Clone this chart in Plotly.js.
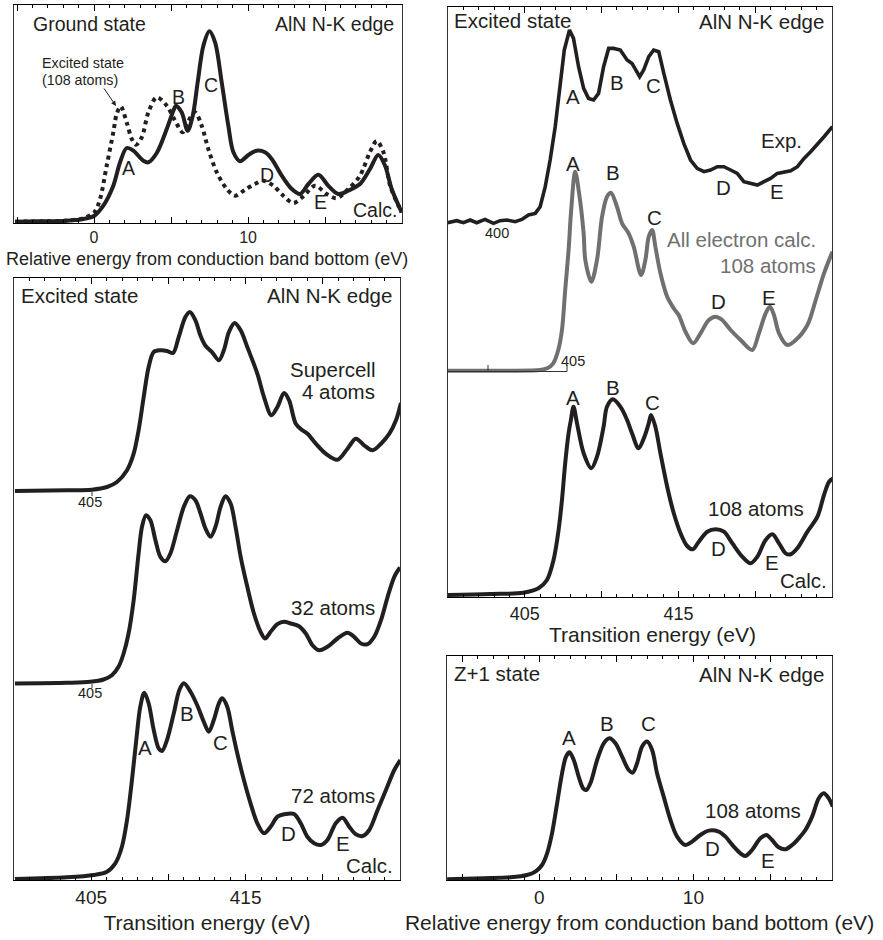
<!DOCTYPE html>
<html>
<head>
<meta charset="utf-8">
<script src="https://cdn.plot.ly/plotly-3.0.1.min.js"></script>
<style>html,body{margin:0;padding:0;background:#fff;}#chart{width:883px;height:940px;}</style>
</head>
<body>
<div id="chart"></div>
<script>
// ---------- Panel 1: ground state vs excited state (relative energy, eV) ----------
const gsE = [-5.13, -3.5, -1.77, -0.69, 0.02, 0.6, 1.25, 1.69, 2.12, 2.55, 3.2, 3.53, 4.07, 4.72, 5.15, 5.32, 5.69, 6.08, 6.41, 6.73, 7.1, 7.49, 7.86, 8.29, 8.72, 9.05, 9.48, 10.02, 10.56, 11.1, 11.54, 12.19, 12.84, 13.38, 13.92, 14.57, 15.21, 15.86, 16.51, 17.27, 17.92, 18.46, 18.9, 19.33, 19.98];
const gsI = [0.3, 0.7, 1.3, 3, 6.3, 16.3, 36.3, 59.7, 74, 71.3, 61.3, 59.7, 69, 93, 111.3, 116.3, 109.7, 91.3, 106.3, 139.7, 176.3, 190.7, 179.7, 139.7, 96.3, 69.7, 60.7, 67, 71.3, 69.7, 63, 46.3, 33, 28, 38, 47.3, 36.3, 28, 31.3, 38, 53, 67, 56.3, 33, 9.7];
const ex108E = [-5.13, -1.77, -0.69, 0.02, 0.39, 0.82, 1.25, 1.47, 1.73, 2.12, 2.45, 2.73, 3.1, 3.53, 4.07, 4.72, 5.26, 5.76, 6.13, 6.56, 6.99, 7.42, 7.97, 8.62, 9.16, 9.81, 10.45, 11.0, 11.64, 12.29, 12.94, 13.59, 14.35, 15.11, 15.76, 16.51, 17.27, 17.92, 18.36, 18.79, 19.23, 19.77, 19.98];
const ex108I = [0.3, 1.5, 3.7, 9.7, 23, 56.3, 89.7, 108, 115.7, 99.7, 83, 77.3, 84.7, 109.7, 124.7, 116.3, 101.3, 89.7, 101.3, 109.7, 96.3, 73, 49.7, 33, 26.3, 32.3, 38, 41.3, 36.3, 26.3, 19, 25.7, 36.3, 28, 23.7, 33, 46.3, 70, 81, 70, 36.3, 16.3, 9.7];

// ---------- Panel 2: supercell size dependence (transition energy, eV) ----------
const sc4E = [400.06, 403.42, 405.04, 406.02, 406.67, 407.32, 407.75, 408.07, 408.4, 408.72, 409.05, 409.48, 409.91, 410.3, 410.67, 411.1, 411.39, 411.75, 412.08, 412.4, 412.84, 413.27, 413.59, 413.92, 414.29, 414.68, 415.11, 415.76, 416.19, 416.67, 417.06, 417.49, 417.82, 418.25, 418.68, 419.01, 419.55, 420.19, 420.95, 421.6, 422.14, 422.68, 423.22, 423.77, 424.31, 424.74, 425.06];
const sc4I = [0, 0.7, 1.3, 4, 9, 20.7, 37.3, 60.7, 94, 124, 139, 140.7, 140, 138, 154, 174, 179, 170.7, 155.3, 145.3, 138.7, 130.7, 140.7, 159, 168, 160.7, 144, 117.3, 94, 75.7, 84, 98, 90.7, 67.3, 60.7, 57.3, 47.3, 37.3, 31.3, 42.3, 52.3, 45.7, 40.7, 47.3, 57.3, 70.7, 88];
const sc32E = [400.06, 403.42, 404.94, 405.8, 406.34, 406.77, 407.1, 407.42, 407.75, 408.07, 408.29, 408.55, 408.83, 409.16, 409.48, 409.81, 410.13, 410.56, 411.0, 411.39, 411.75, 412.08, 412.4, 412.73, 413.05, 413.38, 413.7, 414.03, 414.35, 414.68, 415.11, 415.54, 415.97, 416.26, 416.62, 417.06, 417.49, 417.92, 418.46, 418.9, 419.33, 419.76, 420.3, 420.95, 421.6, 422.03, 422.47, 422.9, 423.33, 423.77, 424.2, 424.63, 425.0];
const sc32I = [0, 0.7, 1.7, 4, 8.3, 16.7, 30, 50, 83.3, 130, 156.7, 168.3, 163.3, 143.3, 126.7, 122.3, 130, 153.3, 176.7, 187.3, 183.3, 170, 155, 146.7, 156.7, 176.7, 187.3, 180, 156.7, 126.7, 96.7, 70, 51.7, 45, 51.7, 59.3, 61.7, 60, 57.3, 50, 38.3, 33.3, 36.7, 45, 50.7, 46.7, 40, 39.3, 46.7, 63.3, 86.7, 106.7, 116];
const sc72E = [400.06, 403.42, 405.15, 406.02, 406.56, 406.99, 407.32, 407.64, 407.92, 408.18, 408.44, 408.72, 409.05, 409.37, 409.59, 409.91, 410.35, 410.71, 411.0, 411.43, 411.86, 412.29, 412.62, 412.94, 413.27, 413.48, 413.81, 414.13, 414.46, 414.89, 415.32, 415.76, 416.19, 416.62, 417.06, 417.49, 418.14, 418.57, 419.0, 419.44, 419.87, 420.3, 420.84, 421.28, 421.71, 422.14, 422.58, 423.01, 423.55, 424.09, 424.63, 425.02];
const sc72I = [0, 1.7, 4, 7.3, 15.7, 32.3, 59, 99, 139, 172.3, 186.3, 175.7, 149, 130.7, 128, 139, 165.7, 189, 195.7, 187.3, 174, 157.3, 147.3, 159, 175.7, 180.7, 172.3, 149, 125.7, 99, 75.7, 55.7, 45.7, 52.3, 62.3, 64.7, 65, 55.7, 42.3, 35.7, 34, 39, 55.7, 61.3, 52.3, 44.7, 43, 49, 69, 89, 109, 119];

// ---------- Panel 3: experiment vs all-electron vs 108-atom calc (transition energy, eV) ----------
const expE = [399.95, 400.57, 401.0, 401.44, 401.87, 402.41, 402.96, 403.39, 403.83, 404.37, 404.81, 405.24, 405.68, 406.0, 406.33, 406.65, 406.98, 407.31, 407.57, 407.91, 408.17, 408.5, 408.83, 409.15, 409.48, 409.8, 410.13, 410.46, 410.78, 411.22, 411.66, 411.98, 412.2, 412.48, 412.74, 413.07, 413.39, 413.72, 414.05, 414.48, 414.92, 415.35, 415.79, 416.22, 416.66, 417.09, 417.53, 417.96, 418.4, 418.83, 419.26, 419.7, 420.14, 420.57, 421.0, 421.44, 421.87, 422.31, 422.75, 423.18, 423.61, 424.05, 424.48, 425.03];
const expI = [0, 2, 0, 2.7, 0, 3.3, -0.7, 2, 2.7, 1, 3.3, 7.7, 9.3, 16, 36, 62.7, 96, 139.3, 172.7, 192.7, 184.3, 156, 134.3, 124.3, 122.7, 129.3, 156, 174.3, 174.3, 172.7, 162.7, 159.3, 152.7, 146, 152.7, 166, 172.7, 171, 149.3, 122.7, 99.3, 79.3, 62.7, 54.3, 51, 52.7, 56, 56, 52.7, 49.3, 41, 39.3, 37.7, 41, 44.3, 49.3, 51, 52, 56, 64.3, 71, 79.3, 86, 96];
const aeE = [399.93, 403.85, 406.0, 406.46, 406.85, 407.18, 407.42, 407.63, 407.85, 408.02, 408.28, 408.55, 408.83, 408.94, 409.33, 409.7, 410.03, 410.35, 410.61, 411.0, 411.33, 411.76, 412.09, 412.57, 412.85, 413.07, 413.29, 413.5, 413.83, 414.27, 414.7, 415.02, 415.46, 415.96, 416.44, 416.98, 417.42, 417.85, 418.4, 419.05, 419.81, 420.24, 420.68, 420.96, 421.22, 421.55, 422.09, 422.64, 423.4, 423.94, 424.48, 425.03];
const aeI = [0, 0, 0.7, 2.4, 7.4, 20.7, 40.7, 80.7, 120.7, 160.7, 199, 175.7, 137.4, 110.7, 89, 110.7, 154, 174, 178, 164, 147.4, 137.4, 124, 95.7, 110.7, 134, 140.7, 124, 97.4, 74, 62.4, 55.7, 39, 27.4, 37.4, 50.7, 54, 50.7, 40.7, 30.7, 20.7, 37.4, 57.4, 64, 55.7, 37.4, 25.7, 30.7, 45.7, 70.7, 97.4, 119];
const c108E = [399.93, 402.74, 404.91, 405.89, 406.44, 406.87, 407.2, 407.42, 407.63, 407.85, 408.0, 408.17, 408.4, 408.83, 409.33, 409.7, 410.13, 410.35, 410.74, 411.22, 411.66, 411.98, 412.41, 412.79, 413.07, 413.22, 413.5, 413.83, 414.27, 414.7, 415.14, 415.57, 415.94, 416.33, 416.88, 417.42, 417.96, 418.51, 419.16, 419.7, 420.14, 420.68, 421.12, 421.55, 421.98, 422.31, 422.74, 423.4, 424.05, 424.48, 424.81, 425.1];
const c108I = [0, 1, 2.3, 6.7, 15, 35, 65, 95, 131.7, 161.7, 175, 188.3, 171.7, 141.7, 126.7, 138.3, 168.3, 188.3, 195.7, 188.3, 175, 161.7, 146.7, 158.3, 171.7, 180, 168.3, 141.7, 108.3, 81.7, 61.7, 49, 45.7, 53.3, 63.3, 65.7, 63.3, 51.7, 38.3, 31.7, 38.3, 55, 60.7, 51.7, 41.7, 40.7, 46.7, 63.3, 78.3, 100, 113.3, 116.7];

// ---------- Panel 4: Z+1 state (relative energy, eV) ----------
const z1E = [-5.99, -3.62, -1.88, -0.8, -0.26, 0.17, 0.5, 0.82, 1.15, 1.47, 1.73, 1.95, 2.23, 2.55, 2.84, 3.05, 3.31, 3.75, 4.18, 4.55, 4.94, 5.37, 5.8, 6.06, 6.34, 6.67, 6.99, 7.32, 7.64, 8.07, 8.51, 8.94, 9.48, 9.91, 10.45, 11.0, 11.64, 12.08, 12.62, 13.05, 13.38, 13.81, 14.35, 14.74, 15.11, 15.53, 15.97, 16.41, 16.84, 17.27, 17.71, 18.14, 18.46, 18.79, 19.05];
const z1I = [0, 1, 2, 4.3, 7.7, 14.3, 26, 46, 76, 106, 122.7, 127, 119.3, 102.7, 91, 89.3, 96, 119.3, 136, 141, 136, 122.7, 109.3, 106.7, 116, 132.7, 137.7, 129.3, 106, 82.7, 59.3, 42.7, 34.3, 37.7, 44.3, 48.7, 47.7, 42.7, 32.7, 26, 23.3, 29.3, 41, 44.3, 39.3, 32, 30, 34.3, 41, 49.3, 62.7, 81, 86, 81, 72.7];

// ---------- tick labels ----------
const relTickVals = [-5, 0, 5, 10, 15, 20];
const relTickText = ['', '0', '', '10', '', ''];
const trTickVals = [400, 405, 410, 415, 420, 425];
const trTickText = ['', '405', '', '415', '', ''];

// ---------- helpers ----------
const W = 883, H = 940;
const FONT = 'Liberation Sans, Arial, Helvetica, sans-serif';
const BLACK = '#231f20', GRAY = '#707070';
const fx = p => p / W;
const fy = p => 1 - p / H;

function xAx(left, right, anchor, range, tv, tt, title, tsize, tfs, standoff) {
  return {
    domain: [fx(left), fx(right)], anchor: anchor, range: range,
    showline: true, linecolor: '#000', linewidth: 1, mirror: 'ticks',
    ticks: 'inside', ticklen: 6, tickwidth: 1, tickcolor: '#000',
    tickmode: 'array', tickvals: tv, ticktext: tt,
    minor: {tick0: 0, dtick: 1, ticks: 'inside', ticklen: 3, tickwidth: 1, tickcolor: '#000', showgrid: false},
    showgrid: false, zeroline: false,
    tickfont: {family: FONT, size: tfs, color: BLACK},
    title: {text: title, font: {family: FONT, size: tsize, color: BLACK}, standoff: standoff},
    fixedrange: true
  };
}
function yFrame(top, bottom, anchor, range) {
  return {domain: [fy(bottom), fy(top)], anchor: anchor, range: range,
    showline: true, mirror: true, linecolor: '#333', linewidth: 1,
    ticks: '', showticklabels: false, showgrid: false, zeroline: false, fixedrange: true};
}
// curve axis: baseline pixel row, height (px) above baseline, 1 unit = 1 px
function yCurve(base, height, anchor, pad) {
  return {domain: [fy(base + pad), fy(base - height)], anchor: anchor, range: [-pad, height],
    visible: false, fixedrange: true};
}
function line(x, y, xa, ya, color, width, dash) {
  return {x: x, y: y, xaxis: xa, yaxis: ya, type: 'scatter', mode: 'lines',
    line: {color: color, width: width, shape: 'spline', smoothing: 0.9, dash: dash || 'solid'},
    hoverinfo: 'skip', showlegend: false};
}

const LW = 4;
const traces = [
  line(ex108E, ex108I, 'x', 'y', BLACK, 4, 'dot'),
  line(gsE, gsI, 'x', 'y', BLACK, LW),
  line(sc4E, sc4I, 'x2', 'y3', BLACK, LW),
  line(sc32E, sc32I, 'x2', 'y4', BLACK, LW),
  line(sc72E, sc72I, 'x2', 'y2', BLACK, LW),
  Object.assign(line(expE, expI, 'x3', 'y7', BLACK, 3.6), {line: {color: BLACK, width: 3.6, shape: 'linear'}}),
  line(aeE, aeI, 'x3', 'y6', GRAY, LW),
  line(c108E, c108I, 'x3', 'y5', BLACK, LW),
  line(z1E, z1I, 'x4', 'y8', BLACK, LW)
];

const FS = 20.5;
function T(text, x, y, opts) {
  const o = opts || {};
  return {text: text, xref: 'paper', yref: 'paper', x: fx(x), y: fy(y),
    xanchor: o.xa || 'center', yanchor: 'middle', showarrow: false,
    font: {family: FONT, size: o.size || FS, color: o.color || BLACK}};
}
const L = {xa: 'left'}, R = {xa: 'right'};
const P1 = 19.5;
const annotations = [
  // panel 1
  T('Ground state', 31, 24, {xa: 'left', size: P1}), T('AlN N-K edge', 396, 24, {xa: 'right', size: P1}),
  T('Excited state', 40, 63, {xa: 'left', size: 14.3}), T('(108 atoms)', 40, 80, {xa: 'left', size: 14.3}),
  {x: fx(116), y: fy(106), ax: -13, ay: -19, xref: 'paper', yref: 'paper', axref: 'pixel', ayref: 'pixel',
   text: '', showarrow: true, arrowhead: 2, arrowsize: 1, arrowwidth: 1, arrowcolor: BLACK},
  T('A', 128, 168, {size: P1}), T('B', 178, 97, {size: P1}), T('C', 211, 85, {size: P1}),
  T('D', 267, 175, {size: P1}), T('E', 320, 202, {size: P1}),
  T('Calc.', 399, 210, {xa: 'right', size: P1}),
  T('Relative energy from conduction band bottom (eV)', 207, 259, {size: 18}),
  // panel 2
  T('Excited state', 19, 295, L), T('AlN N-K edge', 394, 295, R),
  T('Supercell', 377, 370, R), T('4 atoms', 377, 392, R),
  T('32 atoms', 377, 607, R), T('72 atoms', 377, 795, R),
  T('A', 145, 747), T('B', 187, 713), T('C', 220, 742), T('D', 288, 833), T('E', 343, 843),
  T('Calc.', 395, 865, R),
  T('405', 90, 502, {size: 14.5}), T('405', 90, 693, {size: 14.5}),
  // panel 3
  T('Excited state', 452, 21, L), T('AlN N-K edge', 826, 22, R),
  T('A', 573, 97), T('B', 617, 83), T('C', 653, 85), T('Exp.', 804, 140, R), T('D', 723, 187), T('E', 777, 191),
  T('400', 497, 233, {size: 14.5}),
  T('A', 573, 163), T('B', 613, 173), T('C', 654, 218),
  T('All electron calc.', 818, 240, {xa: 'right', color: GRAY}), T('108 atoms', 818, 265, {xa: 'right', color: GRAY}),
  T('D', 718, 302), T('E', 769, 297),
  T('405', 573, 361, {size: 14.5}),
  T('A', 573, 397), T('B', 613, 387), T('C', 652, 402),
  T('108 atoms', 806, 508, R), T('D', 718, 548), T('E', 772, 562), T('Calc.', 829, 580, R),
  T('Transition energy (eV)', 652, 634, {size: 21}),
  // panel 4
  T('Z+1 state', 452, 673, L), T('AlN N-K edge', 826, 674, R),
  T('A', 569, 737), T('B', 607, 723), T('C', 648, 723),
  T('108 atoms', 803, 810, R), T('D', 712, 848), T('E', 768, 860)
];

// mini energy scales drawn under the curves
const shapes = [
  {type: 'line', xref: 'paper', yref: 'paper', x0: fx(447), x1: fx(567), y0: fy(371.5), y1: fy(371.5), line: {color: '#333', width: 1}},
  {type: 'line', xref: 'paper', yref: 'paper', x0: fx(488), x1: fx(488), y0: fy(371.5), y1: fy(365), line: {color: '#333', width: 1}},
  {type: 'line', xref: 'paper', yref: 'paper', x0: fx(567), x1: fx(567), y0: fy(371.5), y1: fy(365), line: {color: '#333', width: 1}},
  {type: 'line', xref: 'paper', yref: 'paper', x0: fx(92), x1: fx(92), y0: fy(492), y1: fy(496), line: {color: '#333', width: 1}},
  {type: 'line', xref: 'paper', yref: 'paper', x0: fx(92), x1: fx(92), y0: fy(684), y1: fy(688), line: {color: '#333', width: 1}}
];

const layout = {
  width: W, height: H, margin: {l: 0, r: 0, t: 0, b: 0},
  paper_bgcolor: '#fff', plot_bgcolor: 'rgba(0,0,0,0)', showlegend: false,
  font: {family: FONT, color: BLACK},
  xaxis: xAx(14, 402, 'y', [-5.2, 20.0], relTickVals, relTickText, '', 18, 16, 0),
  yaxis: yFrame(5, 223, 'x', [-1, 217]),
  xaxis2: xAx(14, 400, 'y2', [400, 425], trTickVals, trTickText, 'Transition energy (eV)', 21, 19, 8),
  yaxis2: yFrame(278, 880, 'x2', [-1, 601]),
  yaxis3: yCurve(491, 200, 'x2', 4),
  yaxis4: yCurve(683.5, 200, 'x2', 4),
  xaxis3: xAx(448, 832, 'y5', [400, 425], trTickVals, trTickText, '', 21, 18, 0),
  yaxis5: yFrame(7, 597, 'x3', [-2, 588]),
  yaxis6: yCurve(370.7, 220, 'x3', 4),
  yaxis7: yCurve(222.7, 215, 'x3', 6),
  xaxis4: xAx(447, 832, 'y8', [-6, 19], relTickVals, relTickText, 'Relative energy from conduction band bottom (eV)', 21, 19, 8),
  yaxis8: yFrame(656, 880, 'x4', [-0.7, 223.3]),
  annotations: annotations,
  shapes: shapes
};

Plotly.newPlot('chart', traces, layout, {staticPlot: true, displayModeBar: false});
</script>
</body>
</html>
